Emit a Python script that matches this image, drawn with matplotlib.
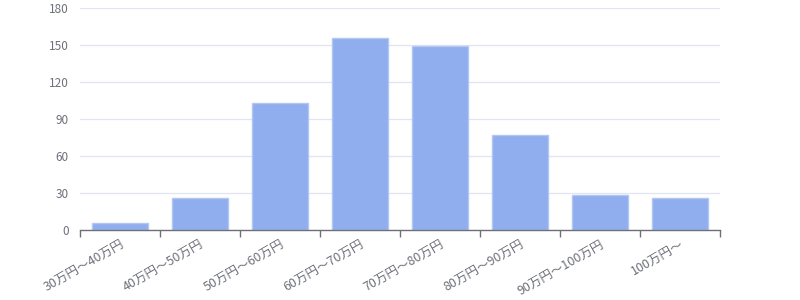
import numpy as np
import matplotlib
matplotlib.use('Agg')
import matplotlib.pyplot as plt

plt.rcParams['font.family'] = ['Noto Sans CJK JP', 'DejaVu Sans']

# salary bands and counts
categories = ['30万円～40万円', '40万円～50万円', '50万円～60万円', '60万円～70万円',
              '70万円～80万円', '80万円～90万円', '90万円～100万円', '100万円～']
counts = [6, 26, 103, 156, 149, 77, 28, 26]
yticks = [0, 30, 60, 90, 120, 150, 180]

AXIS_GREY = '#6e7079'
GRID = '#e0e6f1'

fig = plt.figure(figsize=(8, 3), dpi=100)
ax = fig.add_axes([0.1, 0.2333, 0.8, 0.74])

x = np.arange(len(categories))
ax.bar(x, counts, width=0.69, color='#90aeee',
       edgecolor='#b2c7f3', linewidth=1.0, zorder=3)

ax.set_xlim(-0.5, len(categories) - 0.5)
ax.set_ylim(0, 180)
ax.set_yticks(yticks)
ax.yaxis.grid(True, color=GRID, linewidth=0.9, zorder=0)
ax.tick_params(axis='y', length=0, colors=AXIS_GREY, labelsize=8.5, pad=8)

# ticks sit on the category boundaries, labels at the centres
ax.set_xticks(np.arange(len(categories) + 1) - 0.5)
ax.set_xticklabels([])
ax.tick_params(axis='x', which='major', length=5, color=AXIS_GREY, width=1)
ax.set_xticks(x, minor=True)
ax.set_xticklabels(categories, minor=True, rotation=30, ha='right',
                   rotation_mode='anchor', color=AXIS_GREY, fontsize=9)
ax.tick_params(axis='x', which='minor', length=0, pad=6)

for s in ['top', 'right', 'left']:
    ax.spines[s].set_visible(False)
ax.spines['bottom'].set_color(AXIS_GREY)
ax.spines['bottom'].set_linewidth(1)
ax.spines['bottom'].set_zorder(4)

fig.savefig('out.png', dpi=100)
